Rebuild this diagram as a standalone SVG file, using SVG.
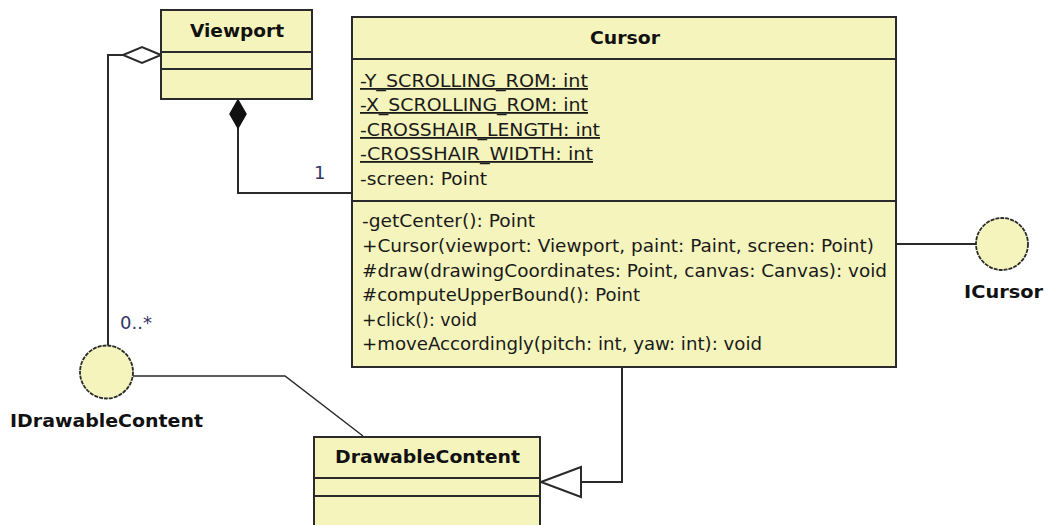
<svg xmlns="http://www.w3.org/2000/svg" width="1049" height="525" viewBox="0 0 1049 525">
<style>
.box{fill:#f4f4bc;stroke:#2a2a2a;stroke-width:2}
.div{stroke:#2a2a2a;stroke-width:2}
.ln{fill:none;stroke:#2a2a2a;stroke-width:2}
.thin{fill:none;stroke:#2a2a2a;stroke-width:1.5}
.iface{fill:#f4f4bc;stroke:#2a2a2a;stroke-width:1.8;stroke-dasharray:4 1}
.t{font-family:"DejaVu Sans","Liberation Sans",sans-serif;font-size:18px;fill:#1a1a1a}
.b{font-family:"DejaVu Sans","Liberation Sans",sans-serif;font-size:18px;font-weight:bold;fill:#111}
.u{text-decoration:underline}
.m{font-family:"DejaVu Sans","Liberation Sans",sans-serif;font-size:18px;fill:#333366}
</style>
<rect width="1049" height="525" fill="#ffffff"/>
<g id="connectors">
  <polyline class="ln" points="123,55 108,55 108,345"/>
  <polygon points="161,55 142,47 123,55 142,63" fill="#ffffff" stroke="#2a2a2a" stroke-width="2"/>
  <polyline class="ln" points="238,128 238,193 352,193"/>
  <polygon points="238,100 246,114 238,128 230,114" fill="#111" stroke="#111" stroke-width="1.5"/>
  <text class="m" x="314" y="179">1</text>
  <text class="m" x="120" y="329">0..*</text>
  <line class="ln" x1="896" y1="244" x2="976" y2="244"/>
  <polyline class="thin" points="133,376 285,376 363,436"/>
  <polyline class="ln" points="622,367 622,482 581,482"/>
  <polygon points="541,482 581,467 581,497" fill="#ffffff" stroke="#2a2a2a" stroke-width="2"/>
</g>
<g id="viewport">
  <rect class="box" x="161" y="10" width="151" height="89"/>
  <line class="div" x1="161" y1="52" x2="312" y2="52"/>
  <line class="div" x1="161" y1="69" x2="312" y2="69"/>
  <text class="b" x="237" y="37" text-anchor="middle" textLength="94" lengthAdjust="spacingAndGlyphs">Viewport</text>
</g>
<g id="cursor">
  <rect class="box" x="352" y="17" width="544" height="350"/>
  <line class="div" x1="352" y1="59" x2="896" y2="59"/>
  <line class="div" x1="352" y1="201" x2="896" y2="201"/>
  <text class="b" x="590" y="44" textLength="70" lengthAdjust="spacingAndGlyphs">Cursor</text>
  <text class="t u" x="360" y="87" textLength="228" lengthAdjust="spacingAndGlyphs">-Y_SCROLLING_ROM: int</text>
  <text class="t u" x="360" y="111" textLength="228" lengthAdjust="spacingAndGlyphs">-X_SCROLLING_ROM: int</text>
  <text class="t u" x="360" y="136" textLength="240" lengthAdjust="spacingAndGlyphs">-CROSSHAIR_LENGTH: int</text>
  <text class="t u" x="360" y="160" textLength="233" lengthAdjust="spacingAndGlyphs">-CROSSHAIR_WIDTH: int</text>
  <text class="t" x="360" y="185" textLength="127" lengthAdjust="spacingAndGlyphs">-screen: Point</text>
  <text class="t" x="362" y="227" textLength="173" lengthAdjust="spacingAndGlyphs">-getCenter(): Point</text>
  <text class="t" x="362" y="252" textLength="512" lengthAdjust="spacingAndGlyphs">+Cursor(viewport: Viewport, paint: Paint, screen: Point)</text>
  <text class="t" x="362" y="277" textLength="525" lengthAdjust="spacingAndGlyphs">#draw(drawingCoordinates: Point, canvas: Canvas): void</text>
  <text class="t" x="362" y="301" textLength="278" lengthAdjust="spacingAndGlyphs">#computeUpperBound(): Point</text>
  <text class="t" x="362" y="326" textLength="115" lengthAdjust="spacingAndGlyphs">+click(): void</text>
  <text class="t" x="362" y="350" textLength="400" lengthAdjust="spacingAndGlyphs">+moveAccordingly(pitch: int, yaw: int): void</text>
</g>
<g id="icursor">
  <circle class="iface" cx="1002" cy="244" r="26"/>
  <text class="b" x="964" y="298" textLength="79" lengthAdjust="spacingAndGlyphs">ICursor</text>
</g>
<g id="idrawablecontent">
  <circle class="iface" cx="106.5" cy="372" r="26.5"/>
  <text class="b" x="10" y="427" textLength="193" lengthAdjust="spacingAndGlyphs">IDrawableContent</text>
</g>
<g id="drawablecontent">
  <rect class="box" x="314" y="437" width="226" height="100"/>
  <line class="div" x1="314" y1="478" x2="540" y2="478"/>
  <line class="div" x1="314" y1="496" x2="540" y2="496"/>
  <text class="b" x="335" y="463" textLength="185" lengthAdjust="spacingAndGlyphs">DrawableContent</text>
</g>
</svg>
